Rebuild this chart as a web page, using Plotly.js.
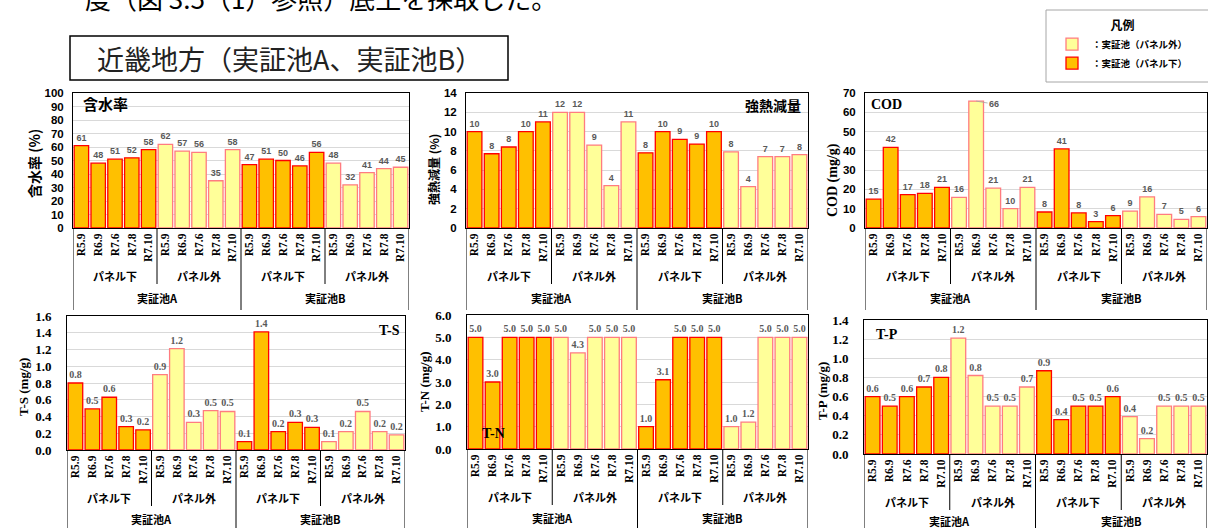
<!DOCTYPE html>
<html><head><meta charset="utf-8">
<script src="https://cdn.plot.ly/plotly-3.0.1.min.js"></script>
<style>html,body{margin:0;padding:0;background:#fff}#chart{width:1208px;height:528px}</style>
</head><body><div id="chart"></div>
<script>
// ---- data ----
const dates = ['R5.9','R6.9','R7.6','R7.8','R7.10'];
const panels = ['パネル下','パネル外'];
const ponds = ['実証池A','実証池B'];
// order: 実証池A-パネル下, 実証池A-パネル外, 実証池B-パネル下, 実証池B-パネル外 (each R5.9..R7.10)
const water   = [61,48,51,52,58, 62,57,56,35,58, 47,51,50,46,56, 48,32,41,44,45];
const ignLoss = [10.0,7.7,8.4,10.0,11.0, 12.0,12.0,8.6,4.4,11.0, 7.8,10.0,9.2,8.7,10.0, 7.9,4.3,7.4,7.4,7.6];
const cod     = [15.0,41.8,17.3,18.0,21.1, 15.9,65.8,20.7,10.0,21.1, 8.3,41.0,7.8,3.3,6.4, 8.8,16.1,7.1,4.5,5.9];
const ts      = [0.80,0.49,0.63,0.28,0.24, 0.90,1.21,0.33,0.47,0.46, 0.10,1.41,0.22,0.33,0.27, 0.10,0.22,0.46,0.22,0.18];
const tn      = [5.0,3.0,5.0,5.0,5.0, 5.0,4.3,5.0,5.0,5.0, 1.0,3.1,5.0,5.0,5.0, 1.0,1.2,5.0,5.0,5.0];
const tp      = [0.60,0.50,0.60,0.70,0.80, 1.21,0.82,0.50,0.50,0.70, 0.87,0.36,0.50,0.50,0.60, 0.39,0.16,0.50,0.50,0.50];
const legendNames = ['：実証池（パネル下）','：実証池（パネル外）'];

// ---- layout helpers ----
const W = 1208, H = 528;
const px = x => x / W;
const py = y => 1 - y / H;
const FONT_JP = 'Noto Sans CJK JP, sans-serif';
const FONT_SANS = 'Liberation Sans, Arial, sans-serif';
const FONT_SERIF = 'Liberation Serif, Noto Sans CJK JP, serif';

const charts = [
  {vals:water, max:100, dtick:10, dec:0, L:73, R:409, T:93, B:228, tickFam:FONT_SANS, tickSize:11.5, tso:6, valFam:FONT_SANS, valSize:9,
   name:'含水率', nameFam:FONT_JP, nameSize:15, nx:105, ny:103, ytitle:'含水率 (%)', ytFam:FONT_JP, ytSize:14, ytx:34, yty:164, pond:70},
  {vals:ignLoss, max:14, dtick:2, dec:0, L:466, R:808, T:93, B:228, tickFam:FONT_SANS, tickSize:11.5, tso:6, valFam:FONT_SANS, valSize:9,
   name:'強熱減量', nameFam:FONT_JP, nameSize:14, nx:773, ny:105, ytitle:'強熱減量 (%)', ytFam:FONT_JP, ytSize:12, ytx:433, yty:170, pond:70},
  {vals:cod, max:70, dtick:10, dec:0, L:865, R:1207, T:93, B:228, tickFam:FONT_SANS, tickSize:11.5, tso:6, valFam:FONT_SANS, valSize:9,
   name:'COD', nameFam:FONT_SERIF, nameSize:14, nx:886, ny:104, ytitle:'COD (mg/g)', ytFam:FONT_SERIF, ytSize:14, ytx:833, yty:180, pond:70},
  {vals:ts, max:1.6, dtick:0.2, dec:1, L:67, R:405, T:316, B:450, tickFam:FONT_SERIF, tickSize:13, tso:12, valFam:FONT_SERIF, valSize:10,
   name:'T-S', nameFam:FONT_SERIF, nameSize:14, nx:389, ny:330, ytitle:'T-S (mg/g)', ytFam:FONT_SERIF, ytSize:13, ytx:23, yty:387, pond:69},
  {vals:tn, max:6, dtick:1, dec:1, L:467, R:808, T:315, B:449, tickFam:FONT_SERIF, tickSize:13, tso:12, valFam:FONT_SERIF, valSize:10,
   name:'T-N', nameFam:FONT_SERIF, nameSize:14, nx:493, ny:433, ytitle:'T-N (mg/g)', ytFam:FONT_SERIF, ytSize:13, ytx:424, yty:382, pond:69},
  {vals:tp, max:1.4, dtick:0.2, dec:1, L:864, R:1207, T:320, B:454, tickFam:FONT_SERIF, tickSize:13, tso:12, valFam:FONT_SERIF, valSize:10,
   name:'T-P', nameFam:FONT_SERIF, nameSize:14, nx:887, ny:334, ytitle:'T-P (mg/g)', ytFam:FONT_SERIF, ytSize:13, ytx:822, yty:391, pond:67}
];

// category index positions & tick labels
const positions = [], tickText = [], panelOf = [];
ponds.forEach((p, pi) => panels.forEach((q, qi) => dates.forEach((d, di) => {
  positions.push(pi * 10 + qi * 5 + di); tickText.push(d); panelOf.push(qi);
})));

const styles = [
  {fill:'#FFC000', line:'#FF0000'},  // パネル下
  {fill:'#FFFF99', line:'#FF7C80'}   // パネル外
];

const data = [];
const layout = {
  width: W, height: H, margin:{l:0,r:0,t:0,b:0},
  paper_bgcolor:'#fff', plot_bgcolor:'#fff',
  barmode:'overlay', showlegend:true,
  legend:{x:px(1052), xanchor:'left', y:py(14), yanchor:'top', bgcolor:'rgba(0,0,0,0)', borderwidth:0,
          traceorder:'reversed',
          title:{text:'凡例', side:'top center', font:{family:FONT_JP, size:12, weight:700, color:'#000'}},
          font:{family:FONT_JP, size:9.5, weight:700, color:'#000'}},
  annotations: [], shapes: []
};

function ann(o) { return Object.assign({showarrow:false, xanchor:'center', yanchor:'middle'}, o); }

charts.forEach((c, ci) => {
  const s = ci === 0 ? '' : String(ci + 1);
  const fmt = v => c.dec === 0 ? String(Math.round(v)) : v.toFixed(1);
  [0, 1].forEach(qi => {
    const xs = [], ys = [], tx = [];
    c.vals.forEach((v, k) => {
      if (panelOf[k] !== qi) return;
      xs.push(positions[k]); ys.push(v);
      tx.push(v > 0.9 * c.max ? '' : fmt(v));
      if (v > 0.9 * c.max) {
        layout.annotations.push({xref:'x'+s, yref:'y'+s, x:positions[k], y:v, text:fmt(v), showarrow:true,
          arrowhead:0, arrowwidth:0.8, arrowcolor:'#a6a6a6', ax:18, ay:3, standoff:0,
          font:{family:c.valFam, size:c.valSize, weight:700, color:'#595959'}});
      }
    });
    data.push({type:'bar', x:xs, y:ys, xaxis:'x'+s, yaxis:'y'+s, width:0.86,
      name: legendNames[qi], legendgroup:'g'+qi, showlegend: ci === 0,
      marker:{color:styles[qi].fill, line:{color:styles[qi].line, width:1.3}},
      text:tx, textposition:'outside', constraintext:'none', cliponaxis:false,
      textfont:{family:c.valFam, size:c.valSize, weight:700, color:'#595959'},
      hoverinfo:'skip'});
  });
  layout['xaxis'+s] = {domain:[px(c.L), px(c.R)], range:[-0.5, 19.5], anchor:'y'+s,
    tickmode:'array', tickvals:positions, ticktext:tickText, tickangle:-90,
    tickfont:{family:FONT_SERIF, size:11.5, weight:700, color:'#000'},
    showline:true, linecolor:'#000', linewidth:1, mirror:true, showgrid:false, zeroline:false, ticks:''};
  layout['yaxis'+s] = {domain:[py(c.B), py(c.T)], range:[0, c.max], dtick:c.dtick, anchor:'x'+s,
    tickformat: c.dec === 0 ? 'd' : '.1f',
    tickfont:{family:c.tickFam, size:c.tickSize, weight:700, color:'#000'}, ticklabelstandoff:c.tso,
    showline:true, linecolor:'#000', linewidth:1, mirror:true, gridcolor:'#d9d9d9', zeroline:false, ticks:''};
  // chart name inside plot
  layout.annotations.push(ann({xref:'paper', yref:'paper', x:px(c.nx), y:py(c.ny), text:c.name,
    font:{family:c.nameFam, size:c.nameSize, weight:700, color:'#000'}}));
  // y-axis title
  layout.annotations.push(ann({xref:'paper', yref:'paper', x:px(c.ytx), y:py(c.yty), text:c.ytitle, textangle:-90,
    font:{family:c.ytFam, size:c.ytSize, weight:700, color:'#000'}}));
  // group labels
  [0,1].forEach(pi => [0,1].forEach(qi => {
    layout.annotations.push(ann({xref:'x'+s, yref:'paper', x:pi*10 + qi*5 + 2, y:py(c.B + 48), text:panels[qi],
      font:{family:FONT_JP, size:11, weight:700, color:'#000'}}));
  }));
  ponds.forEach((p, pi) => {
    layout.annotations.push(ann({xref:'x'+s, yref:'paper', x:pi*10 + 4.5, y:py(c.B + c.pond), text:p,
      font:{family:FONT_JP, size:11, weight:700, color:'#000'}}));
  });
  // dividers below the axis
  [4.5, 14.5].forEach(xv => layout.shapes.push({type:'line', xref:'x'+s, yref:'paper', x0:xv, x1:xv,
    y0:py(c.B), y1:py(c.B + 56), line:{color:'#000', width:1}}));
  [-0.5, 9.5, 19.5].forEach(xv => layout.shapes.push({type:'line', xref:'x'+s, yref:'paper', x0:xv, x1:xv,
    y0:py(c.B), y1:Math.max(py(c.B + 82), 0), line:{color:'#000', width:1}}));
});

// header texts and boxes
layout.annotations.push(ann({xref:'paper', yref:'paper', x:px(83), xanchor:'left', y:py(-3),
  text:'度（図 3.5（1）参照）底土を採取した。', font:{family:FONT_JP, size:26, color:'#000'}}));
layout.shapes.push({type:'rect', xref:'paper', yref:'paper', x0:px(70), x1:px(508), y0:py(80), y1:py(36),
  line:{color:'#000', width:1.5}, fillcolor:'rgba(0,0,0,0)'});
layout.annotations.push(ann({xref:'paper', yref:'paper', x:px(289), y:py(58), text:'近畿地方（実証池A、実証池B）',
  font:{family:FONT_JP, size:27, color:'#222'}}));
layout.shapes.push({type:'rect', xref:'paper', yref:'paper', x0:px(1046), x1:px(1212), y0:py(82), y1:py(10),
  line:{color:'#a6a6a6', width:1}, fillcolor:'rgba(0,0,0,0)'});

Plotly.newPlot('chart', data, layout, {staticPlot:true, displayModeBar:false});
</script>
</body></html>
